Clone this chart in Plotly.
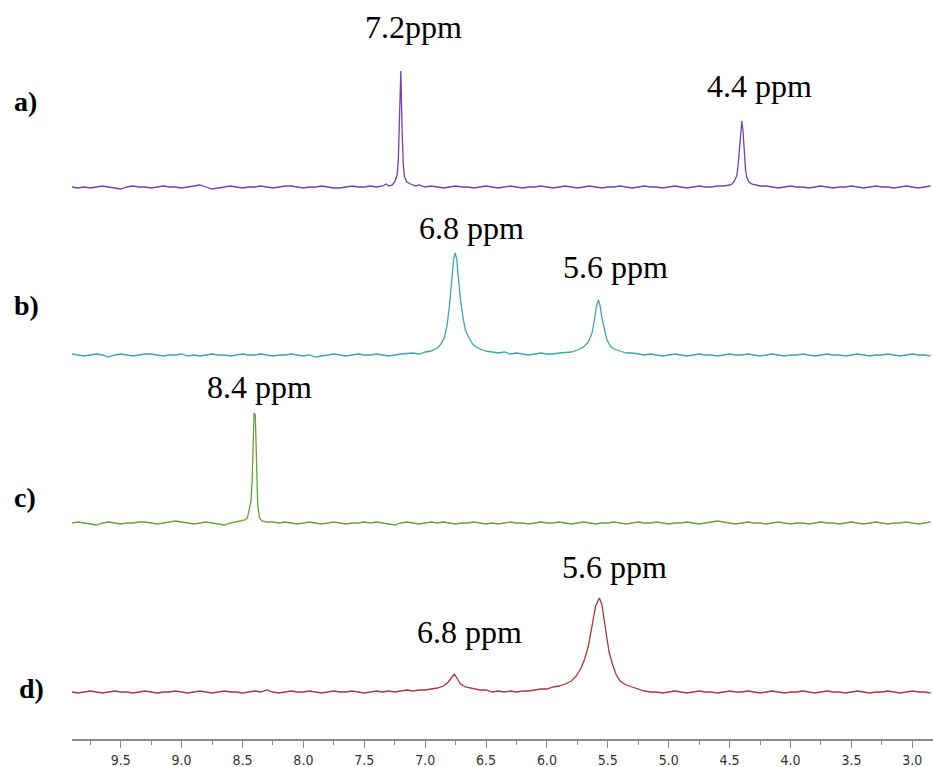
import numpy as np
import plotly.graph_objects as go

# ---------------- data (chemical shift in ppm, intensity in arbitrary units) ----------------
# baseline sampling grid: 9.90 ppm down to 2.85 ppm every 0.05 ppm (142 points)
BASE_PPM = np.round(9.90 - 0.05 * np.arange(142), 2)

a_noise = [0, -1, 0, -1, 0, 1, 0, -1, -2, 0,
           1, 0, 0, -1, 0, 1, 0, 0, -1, 0,
           1, 2, 0, -2, -1, 0, 1, 0, -1, 0,
           0, 1, 0, -1, 0, 1, 1, 0, -1, 0,
           0, 1, 0, -1, -1, 0, 1, 0, 0, 1,
           0, 1, 2, 1, 3, 5, 2, 1, 0, 1,
           0, -1, 0, 1, 0, 0, -1, 0, 1, 0,
           -1, 0, 1, 0, -1, 0, 0, 1, 0, -1,
           0, 1, 0, -1, 0, 1, 0, -1, 0, 0,
           1, 0, -1, 0, 1, 0, 0, -1, 0, 1,
           0, -1, 0, 1, 0, 0, 1, 1, 2, 3,
           8, 3, 1, 0, 1, 0, -1, 0, 1, 0,
           0, -1, 0, 1, 0, -1, 0, 0, 1, 0,
           -1, 0, 1, 0, 0, -1, 0, 1, 0, -1,
           0, 1]
a_peak_ppm = [7.40, 7.35, 7.32, 7.30, 7.27, 7.25, 7.23, 7.22, 7.21, 7.20, 7.19, 7.18, 7.17, 7.15, 7.12, 7.08, 7.05, 7.00]
a_peak_int = [0, 1, 3, 1, 2, 5, 12, 28, 70, 116, 60, 22, 10, 5, 3, 1, 2, 0]
a_peak2_ppm = [4.55, 4.50, 4.48, 4.46, 4.44, 4.43, 4.42, 4.41, 4.40, 4.39, 4.38, 4.37, 4.36, 4.34, 4.32, 4.28, 4.25]
a_peak2_int = [1, 2, 3, 6, 12, 22, 38, 58, 66, 56, 34, 18, 10, 5, 3, 2, 1]

b_noise = [1, 0, -1, 0, 1, 0, -2, 0, 1, 0,
           -1, 0, 1, 1, 0, -1, 0, 0, 1, -1,
           0, -1, 0, 1, 0, 0, -1, 0, 1, 0,
           0, 1, 0, -1, 0, 0, 1, 0, -1, 0,
           -2, -1, 0, 1, 0, -1, 0, 1, 0, 0,
           1, 0, -1, 0, 0, 1, 0, 0, 1, 2,
           3, 5, 8, 20, 90, 40, 12, 6, 4, 3,
           2, 3, 1, 2, 1, 0, 1, 2, 1, 1,
           3, 5, 10, 50, 30, 8, 4, 3, 3, 2,
           3, 1, 2, 1, 0, 1, 0, -1, 0, 1,
           0, -1, 0, 1, 0, 0, -1, 0, 1, 0,
           0, 1, 0, -1, 0, 1, 0, -1, 0, 0,
           1, 0, -1, 0, 1, 0, 0, -1, 0, 1,
           0, -1, 0, 0, 1, 0, -1, 0, 1, 0,
           0, -1]
b_peak_ppm = [7.20, 7.10, 7.05, 7.00, 6.95, 6.90, 6.87, 6.84, 6.82, 6.80, 6.78, 6.765, 6.753, 6.74, 6.73,
              6.71, 6.69, 6.67, 6.64, 6.61, 6.58, 6.55, 6.50, 6.45, 6.40]
b_peak_int = [1, 2, 1, 3, 4, 7, 11, 18, 30, 50, 78, 97, 102, 95, 80,
              55, 38, 25, 17, 11, 8, 6, 4, 3, 2]
b_peak2_ppm = [5.90, 5.80, 5.75, 5.70, 5.66, 5.63, 5.61, 5.595, 5.578, 5.565, 5.55, 5.53, 5.51, 5.48, 5.45, 5.40, 5.35]
b_peak2_int = [2, 3, 5, 8, 13, 22, 35, 48, 55, 50, 38, 25, 16, 9, 6, 4, 2]

c_noise = [0, 1, 0, -1, -2, 0, 1, 0, -1, 0,
           0, 1, 1, 0, -1, 0, 1, 2, 1, 0,
           -1, 0, 1, 0, -1, -2, 0, 1, 2, 3,
           2, 8, 5, 1, 0, 1, 0, -1, 0, 1,
           0, -1, 0, 1, 0, -1, 0, 0, 1, 0,
           1, 0, -1, -2, 0, 1, 0, -1, 0, 1,
           0, 1, 0, -1, 0, 0, 1, 0, -1, 0,
           -1, 0, 1, 0, 0, -1, 0, 1, 0, 0,
           1, 0, -1, 0, 1, 0, -1, 0, 0, 1,
           0, -1, 0, 1, 0, 0, 1, 0, -1, 0,
           0, 1, 0, -1, 0, 1, 2, 1, 0, -1,
           0, 1, 0, 0, -1, 0, 1, 0, -1, 0,
           0, -1, 0, 1, 0, 0, -1, 0, 1, 0,
           -1, 0, 1, 0, -1, 0, 0, 1, 0, -1,
           0, 1]
c_peak_ppm = [8.55, 8.50, 8.48, 8.46, 8.45, 8.44, 8.43, 8.42, 8.405, 8.395, 8.385, 8.375, 8.36, 8.34, 8.30]
c_peak_int = [1, 2, 3, 5, 10, 18, 22, 45, 110, 108, 55, 18, 5, 2, 1]

d_noise = [0, -1, 0, 1, 0, -1, 0, 1, 0, 0,
           -1, 0, 1, 0, -1, 0, 0, 1, 0, -1,
           0, 1, 0, -1, 0, 1, 0, 0, -1, 0,
           1, 0, 2, 0, -1, 0, 1, 0, 0, 1,
           0, -1, 0, 1, 0, 0, 1, 0, -1, 0,
           1, 0, 1, 0, 1, 2, 1, 2, 3, 4,
           3, 1, 0, 1, -1, 0, 1, 0, -1, 0,
           1, 0, 1, 0, 1, 1, 2, 3, 3, 5,
           6, 4, 3, 2, 1, 0, 1, 0, -1, 0,
           1, 0, -1, 0, 1, 0, 0, -1, 0, 1,
           0, -1, 0, 1, 0, 0, -1, 0, 1, 0,
           0, 1, 0, -1, 0, 1, 0, -1, 0, 0,
           1, 0, -1, 0, 1, 0, 0, -1, 0, 1,
           0, -1, 0, 0, 1, 0, -1, 0, 1, 0,
           0, -1]
d_peak_ppm = [7.00, 6.95, 6.90, 6.85, 6.81, 6.78, 6.76, 6.74, 6.71, 6.67, 6.60, 6.55, 6.50]
d_peak_int = [2, 3, 4, 6, 10, 15, 18, 14, 8, 5, 3, 2, 2]
d_peak2_ppm = [6.10, 6.05, 6.00, 5.95, 5.90, 5.85, 5.80, 5.76, 5.72, 5.69, 5.66, 5.63, 5.60, 5.57, 5.55,
               5.53, 5.51, 5.49, 5.46, 5.43, 5.40, 5.35, 5.30, 5.25, 5.20]
d_peak2_int = [2, 3, 3, 5, 6, 8, 11, 16, 24, 33, 46, 66, 86, 94, 88,
               72, 55, 40, 27, 17, 11, 7, 5, 3, 1]

SPECTRA = ["a)", "b)", "c)", "d)"]
PEAK_LABELS = ["7.2ppm", "4.4 ppm", "6.8 ppm", "5.6 ppm", "8.4 ppm", "5.6 ppm", "6.8 ppm"]
TICK_VALUES = [9.5, 9.0, 8.5, 8.0, 7.5, 7.0, 6.5, 6.0, 5.5, 5.0, 4.5, 4.0, 3.5, 3.0]


def merge(noise, peaks):
    ppm = list(BASE_PPM[:len(noise)])
    inten = list(noise)
    for pp, pi in peaks:
        lo, hi = min(pp), max(pp)
        keep = [(x, y) for x, y in zip(ppm, inten) if x < lo or x > hi]
        ppm = [k[0] for k in keep] + list(pp)
        inten = [k[1] for k in keep] + list(pi)
    order = np.argsort(ppm)[::-1]
    return np.array(ppm)[order], np.array(inten)[order]


series = [
    merge(a_noise, [(a_peak_ppm, a_peak_int), (a_peak2_ppm, a_peak2_int)]),
    merge(b_noise, [(b_peak_ppm, b_peak_int), (b_peak2_ppm, b_peak2_int)]),
    merge(c_noise, [(c_peak_ppm, c_peak_int)]),
    merge(d_noise, [(d_peak_ppm, d_peak_int), (d_peak2_ppm, d_peak2_int)]),
]

# ---------------- styling / layout ----------------
W, H = 933, 767
ML, MR, MT, MB = 72, 0, 0, 27
PW, PH = W - ML - MR, H - MT - MB

colors = ["#7142ad", "#3ea7a7", "#6d9f3c", "#a8393c"]
baseline_px = [187, 355, 523, 692]   # pixel rows of the baselines
Y_LO, Y_HI = -20, 130


def px_to_paper(px, py):
    return (px - ML) / PW, (PH + MT - py) / PH


fig = go.Figure()
layout_axes = {}
for i, ((x, y), col, bpx) in enumerate(zip(series, colors, baseline_px)):
    name = "y" if i == 0 else f"y{i + 1}"
    key = "yaxis" if i == 0 else f"yaxis{i + 1}"
    fig.add_trace(go.Scatter(x=x, y=y, mode="lines", line=dict(color=col, width=1.3),
                             xaxis="x", yaxis=name, hoverinfo="skip"))
    base_from_bottom = PH + MT - bpx
    d0 = (base_from_bottom + Y_LO) / PH
    d1 = (base_from_bottom + Y_HI) / PH
    layout_axes[key] = dict(domain=[max(d0, 0), min(d1, 1)], range=[Y_LO, Y_HI], visible=False,
                            fixedrange=True)

fig.update_layout(**layout_axes)

fig.update_layout(
    width=W, height=H,
    margin=dict(l=ML, r=MR, t=MT, b=MB, pad=0),
    plot_bgcolor="white", paper_bgcolor="white",
    showlegend=False,
    xaxis=dict(
        range=[9.9, 2.83], anchor="free", position=0,
        showline=True, linecolor="#8a8a8a", linewidth=2,
        ticks="outside", ticklen=7, tickwidth=1, tickcolor="#8a8a8a",
        tickvals=TICK_VALUES, ticktext=[f"{v:.1f}" for v in TICK_VALUES],
        minor=dict(dtick=0.25, tick0=0, ticks="outside", ticklen=4, tickcolor="#8a8a8a", showgrid=False),
        showgrid=False, zeroline=False,
        tickfont=dict(family="Liberation Sans Narrow, Arial Narrow, DejaVu Sans Condensed, sans-serif",
                      size=14, color="#333333"),
    ),
)

serif = "Liberation Serif, Times New Roman, serif"
label_pos = [(25, 101), (26, 305), (25, 497), (31, 688)]
for txt, (px, py) in zip(SPECTRA, label_pos):
    xp, yp = px_to_paper(px, py)
    fig.add_annotation(x=xp, y=yp, xref="paper", yref="paper", text=f"<b>{txt}</b>", showarrow=False,
                       xanchor="center", yanchor="middle", font=dict(family=serif, size=28, color="black"))

peak_pos = [(413, 27), (759, 86), (471, 228), (615, 267), (259, 387), (614, 567), (469, 632)]
for txt, (px, py) in zip(PEAK_LABELS, peak_pos):
    xp, yp = px_to_paper(px, py)
    fig.add_annotation(x=xp, y=yp, xref="paper", yref="paper", text=txt, showarrow=False,
                       xanchor="center", yanchor="middle", font=dict(family=serif, size=32, color="black"))

fig.write_html("out.html", config={"displayModeBar": False},
               post_script="document.body.style.margin='0';document.body.style.padding='0';")
